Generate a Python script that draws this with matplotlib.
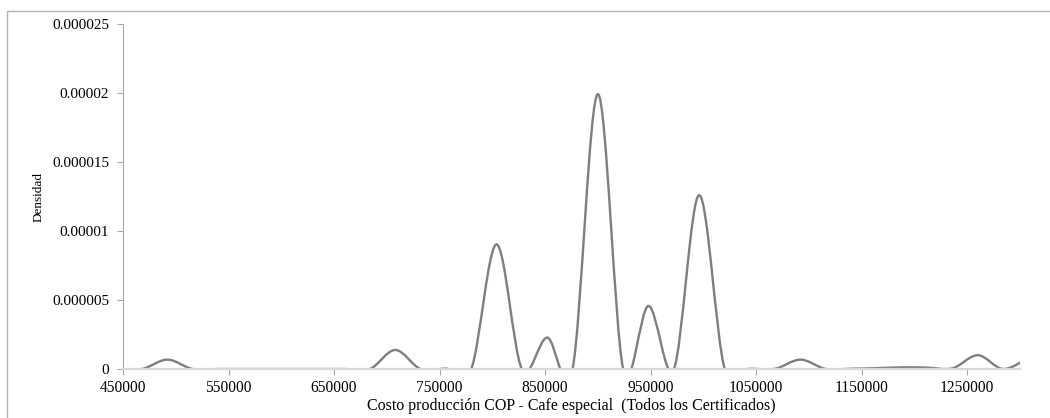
import matplotlib
matplotlib.use("Agg")
import matplotlib.pyplot as plt
from matplotlib.path import Path
from matplotlib.patches import PathPatch, Rectangle

# Evaluation grid (COP) and density values
costo = [444000, 468000, 492000, 516000, 540000, 564000, 588000, 612000, 636000,
         660000, 684000, 708000, 732000, 756000, 780000, 804000, 828000, 852000,
         876000, 900000, 924000, 948000, 972000, 996000, 1020000, 1044000, 1068000,
         1092000, 1116000, 1140000, 1164000, 1188000, 1212000, 1236000, 1260000,
         1284000, 1308000]
densidad = [0.0, 0.0, 0.68e-6, 0.0, 0.0, 0.0, 0.0, 0.0, 0.0,
            0.0, 0.0, 1.38e-6, 0.0, 0.03e-6, 0.0, 9.03e-6, 0.0, 2.28e-6,
            0.0, 19.92e-6, 0.0, 4.57e-6, 0.0, 12.6e-6, 0.05e-6, 0.02e-6, 0.02e-6,
            0.68e-6, 0.0, 0.02e-6, 0.06e-6, 0.12e-6, 0.1e-6, 0.05e-6, 1.0e-6,
            0.0, 0.8e-6]

x_ticks = [450000, 550000, 650000, 750000, 850000, 950000, 1050000, 1150000, 1250000]
y_ticks = [0, 0.000005, 0.00001, 0.000015, 0.00002, 0.000025]
y_tick_labels = ["0", "0.000005", "0.00001", "0.000015", "0.00002", "0.000025"]
x_label = "Costo producción COP - Cafe especial  (Todos los Certificados)"
y_label = "Densidad"

W, H = 1050, 418
fig = plt.figure(figsize=(W / 100, H / 100), dpi=100)
plt.rcParams['font.family'] = ['Liberation Serif', 'DejaVu Serif']

# chart-area frame (cut off at the right and bottom like the reference)
fig.patches.append(Rectangle((7 / W, -0.05), 1.1, 1 - 11 / H + 0.05, transform=fig.transFigure,
                             fill=False, edgecolor='#b3b3b3', linewidth=1.0))

ax = fig.add_axes([123 / W, 49 / H, (1020 - 123) / W, (369 - 24) / H])

# Excel-style smoothed line: Bezier segments through the data points
n = len(costo)
verts = [(costo[0], densidad[0])]
codes = [Path.MOVETO]
for i in range(n - 1):
    p0 = (costo[i - 1], densidad[i - 1]) if i > 0 else (costo[i], densidad[i])
    p1 = (costo[i], densidad[i])
    p2 = (costo[i + 1], densidad[i + 1])
    p3 = (costo[i + 2], densidad[i + 2]) if i + 2 < n else p2
    c1 = (p1[0] + (p2[0] - p0[0]) / 6, p1[1] + (p2[1] - p0[1]) / 6)
    c2 = (p2[0] - (p3[0] - p1[0]) / 6, p2[1] - (p3[1] - p1[1]) / 6)
    verts += [c1, c2, p2]
    codes += [Path.CURVE4] * 3
ax.add_patch(PathPatch(Path(verts, codes), facecolor='none', edgecolor='#7f7f7f',
                       linewidth=1.7, capstyle='round', joinstyle='round'))

ax.set_xlim(450000, 1300000)
ax.set_ylim(0, 0.000025)
ax.set_xticks(x_ticks)
ax.set_xticklabels([str(v) for v in x_ticks])
ax.set_yticks(y_ticks)
ax.set_yticklabels(y_tick_labels)

for s in ['top', 'right']:
    ax.spines[s].set_visible(False)
ax.spines['left'].set_color('#a6a6a6')
ax.spines['left'].set_linewidth(0.8)
ax.spines['bottom'].set_color('#d9d9d9')
ax.spines['bottom'].set_linewidth(1.6)
ax.tick_params(axis='y', direction='out', length=4, width=0.8, color='#a6a6a6',
               labelsize=11, pad=6, labelcolor='black')
ax.tick_params(axis='x', direction='out', length=4, width=0.8, color='#a6a6a6',
               labelsize=11.2, pad=4, labelcolor='black')

ax.set_xlabel(x_label, fontsize=11.5, labelpad=1)
ax.set_ylabel(y_label, fontsize=9.5, labelpad=5)

fig.savefig("out.png", dpi=100)
